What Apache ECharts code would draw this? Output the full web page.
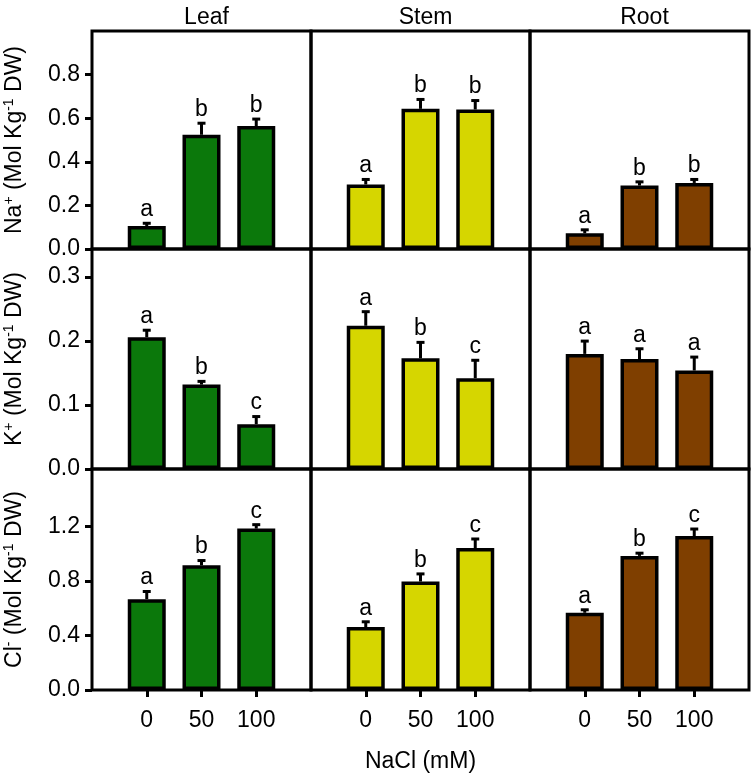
<!DOCTYPE html>
<html>
<head>
<meta charset="utf-8">
<script src="https://cdn.jsdelivr.net/npm/echarts@6/dist/echarts.min.js"></script>
<style>html,body{margin:0;padding:0;background:#fff}#c{width:751px;height:775px}</style>
</head>
<body>
<div id="c"></div>
<script>
// ---------------- data ----------------
const categories = ['0', '50', '100'];
const tissues = ['Leaf', 'Stem', 'Root'];
const tissueColors = ['#0b780b', '#d6d600', '#7f3f00'];

// Na+ (rows = Leaf, Stem, Root)
const naMeans   = [[0.105, 0.524, 0.564], [0.296, 0.643, 0.640], [0.072, 0.291, 0.303]];
const naErrors  = [[0.013, 0.053, 0.032], [0.023, 0.043, 0.041], [0.016, 0.017, 0.016]];
const naLetters = [['a', 'b', 'b'], ['a', 'b', 'b'], ['a', 'b', 'b']];
const naTicks   = [0, 0.2, 0.4, 0.6, 0.8];
const naMax     = 1.0;

// K+
const kMeans   = [[0.206, 0.132, 0.070], [0.224, 0.173, 0.142], [0.180, 0.172, 0.154]];
const kErrors  = [[0.011, 0.005, 0.012], [0.022, 0.025, 0.028], [0.020, 0.016, 0.021]];
const kLetters = [['a', 'b', 'c'], ['a', 'b', 'c'], ['a', 'a', 'a']];
const kTicks   = [0, 0.1, 0.2, 0.3];
const kMax     = 0.344;

// Cl-
const clMeans   = [[0.666, 0.914, 1.183], [0.461, 0.795, 1.041], [0.566, 0.983, 1.129]];
const clErrors  = [[0.056, 0.035, 0.029], [0.039, 0.056, 0.066], [0.022, 0.020, 0.051]];
const clLetters = [['a', 'b', 'c'], ['a', 'b', 'c'], ['a', 'b', 'c']];
const clTicks   = [0, 0.4, 0.8, 1.2];
const clMax     = 1.62;

const xAxisLabel = 'NaCl (mM)';
// ---------------------------------------

const FONT = 'Liberation Sans, Arial, sans-serif';
const FS = 23;
const rows = [
  { means: naMeans, errs: naErrors, letters: naLetters, ticks: naTicks, max: naMax,
    name: '{b|Na}{sup|+}{b| (Mol Kg}{sup|-1}{b| DW)}' },
  { means: kMeans, errs: kErrors, letters: kLetters, ticks: kTicks, max: kMax,
    name: '{b|K}{sup|+}{b| (Mol Kg}{sup|-1}{b| DW)}' },
  { means: clMeans, errs: clErrors, letters: clLetters, ticks: clTicks, max: clMax,
    name: '{b|Cl}{sup|-}{b| (Mol Kg}{sup|-1}{b| DW)}' }
];

const colLeft = [92, 311, 530];
const colWidth = 219;
const rowTop = [31, 249, 469];
const rowHeight = [218, 220, 221];

const xCats = [''].concat(categories).concat(['']);

const grids = [], xAxes = [], yAxes = [], series = [], titles = [];
let gi = 0;
rows.forEach((row, r) => {
  tissues.forEach((t, c) => {
    grids.push({ left: colLeft[c], top: rowTop[r], width: colWidth, height: rowHeight[r],
      show: true, borderColor: '#000', borderWidth: 3, backgroundColor: 'transparent' });
    const bottomRow = r === rows.length - 1;
    xAxes.push({
      gridIndex: gi, type: 'category', data: xCats, boundaryGap: false,
      axisLine: { show: false },
      axisTick: { show: bottomRow, interval: (i) => i >= 1 && i <= categories.length, length: 7,
        lineStyle: { color: '#000', width: 3 } },
      axisLabel: { show: bottomRow, interval: (i) => i >= 1 && i <= categories.length, margin: 19,
        color: '#000', fontSize: FS, fontFamily: FONT },
      name: (bottomRow && c === 1) ? xAxisLabel : '',
      nameLocation: 'middle', nameGap: 60,
      nameTextStyle: { color: '#000', fontSize: FS, fontFamily: FONT },
      splitLine: { show: false }
    });
    const leftCol = c === 0;
    yAxes.push({
      gridIndex: gi, type: 'value', min: 0, max: row.max,
      axisLine: { show: false },
      axisTick: { show: leftCol, customValues: row.ticks, length: 7, lineStyle: { color: '#000', width: 3 } },
      axisLabel: { show: leftCol, customValues: row.ticks, margin: 12, color: '#000', fontSize: FS,
        fontFamily: FONT, formatter: (v) => v.toFixed(1) },
      splitLine: { show: false },
      name: leftCol ? row.name : '',
      nameLocation: 'middle', nameGap: 64,
      nameTextStyle: {
        color: '#000', fontFamily: FONT,
        rich: {
          b: { fontSize: FS, fontFamily: FONT, color: '#000', lineHeight: 26 },
          sup: { fontSize: 14, fontFamily: FONT, color: '#000', lineHeight: 15, verticalAlign: 'top' }
        }
      }
    });
    const barData = categories.map((cat, i) => [cat, row.means[c][i]]);
    series.push({
      type: 'bar', xAxisIndex: gi, yAxisIndex: gi, data: barData, barWidth: 38,
      itemStyle: { color: tissueColors[c], borderColor: '#000', borderWidth: 3.5 },
      z: 2, silent: true
    });
    const errData = categories.map((cat, i) => [cat, row.means[c][i], row.errs[c][i]]);
    const letters = row.letters[c];
    series.push({
      type: 'custom', xAxisIndex: gi, yAxisIndex: gi, data: errData, z: 3, silent: true,
      renderItem: (params, api) => {
        const x = api.value(0);
        const m = api.value(1), e = api.value(2);
        const top = api.coord([x, m]);
        const cap = api.coord([x, m + e]);
        return {
          type: 'group',
          children: [
            { type: 'line', shape: { x1: top[0], y1: top[1], x2: cap[0], y2: cap[1] },
              style: { stroke: '#000', lineWidth: 3 } },
            { type: 'line', shape: { x1: cap[0] - 4, y1: cap[1], x2: cap[0] + 4, y2: cap[1] },
              style: { stroke: '#000', lineWidth: 3 } },
            { type: 'text', x: cap[0], y: cap[1] - 2,
              style: { text: letters[params.dataIndex], fill: '#000', font: FS + 'px ' + FONT,
                textAlign: 'center', textVerticalAlign: 'bottom' } }
          ]
        };
      }
    });
    if (r === 0) {
      titles.push({ text: t, left: colLeft[c] + colWidth / 2, top: 1, textAlign: 'center',
        textStyle: { color: '#000', fontSize: FS, fontWeight: 'normal', fontFamily: FONT } });
    }
    gi++;
  });
});

const chart = echarts.init(document.getElementById('c'), null, { renderer: 'canvas' });
chart.setOption({
  animation: false,
  backgroundColor: '#fff',
  title: titles,
  grid: grids,
  xAxis: xAxes,
  yAxis: yAxes,
  series: series
});
</script>
</body>
</html>
